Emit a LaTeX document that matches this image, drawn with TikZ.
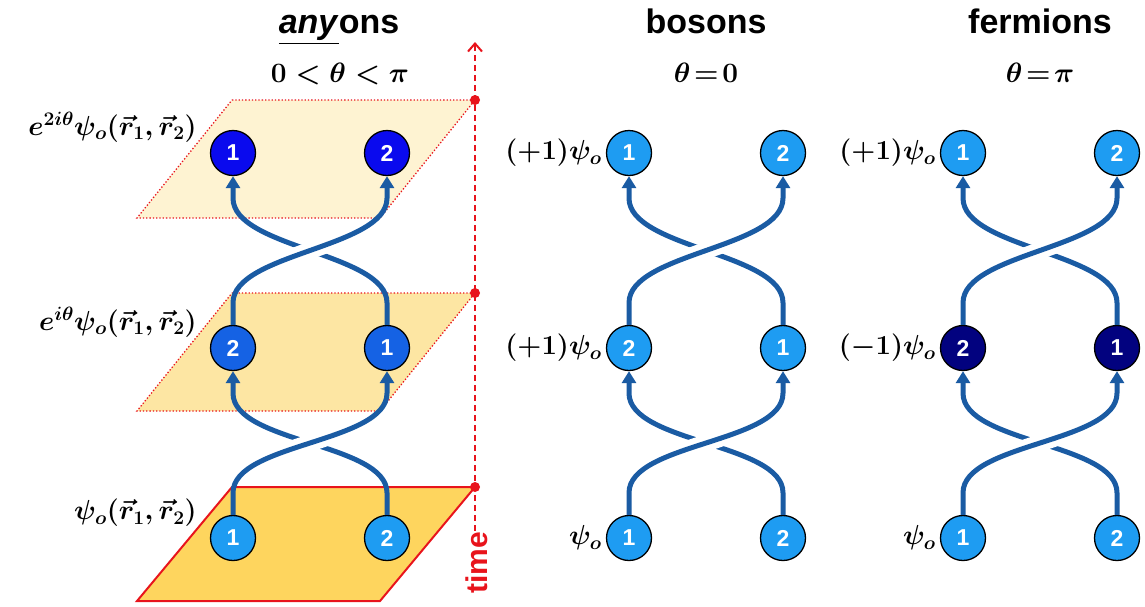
\RequirePackage{fix-cm}
\documentclass[tikz,border=0pt]{standalone}
\usepackage{amsmath}
\usepackage{fontspec}
\setsansfont{Liberation Sans}
\usetikzlibrary{arrows.meta,calc,positioning}

\definecolor{strandblue}{HTML}{1A5BA3}
\definecolor{darkblue}{HTML}{0A0AEE}
\definecolor{midblue}{HTML}{1562E4}
\definecolor{lightblue}{HTML}{1E9CF2}
\definecolor{navyblue}{HTML}{02027F}
\definecolor{timered}{HTML}{E8141C}
\definecolor{planepale}{HTML}{FEF3D2}
\definecolor{planemid}{HTML}{FDE6A3}
\definecolor{planedeep}{HTML}{FED55E}

% #1 lower left, #2 lower right, #3 upper left, #4 upper right
\newcommand{\swapbraid}[4]{%
  \draw[strand] (#2.north) -- ++(0,-22) .. controls +(0,-50) and +(0,50) .. ($(#3.south)+(0,22)$) -- (#3.south);
  \begin{scope}
    \clip ($(#1)!0.5!(#4)$) circle (30);
    \draw[halo] (#1.north) -- ++(0,-22) .. controls +(0,-50) and +(0,50) .. ($(#4.south)+(0,22)$) -- (#4.south);
  \end{scope}
  \draw[strand] (#1.north) -- ++(0,-22) .. controls +(0,-50) and +(0,50) .. ($(#4.south)+(0,22)$) -- (#4.south);
}

\begin{document}
\begin{tikzpicture}[
  x=1pt, y=-1pt,
  particle/.style={circle, draw=black, line width=1.3pt, minimum size=45pt, inner sep=0pt,
    text=white, font=\fontsize{23}{23}\selectfont\sffamily\bfseries},
  strand/.style={draw=strandblue, line width=5pt, -{Triangle[length=12pt,width=14pt]}},
  halo/.style={draw=white, line width=17pt},
  wavefn/.style={font=\fontsize{27.5}{30}\selectfont\boldmath, inner sep=0pt},
  heading/.style={font=\fontsize{34}{38}\selectfont\sffamily\bfseries, anchor=base},
  phase/.style={font=\fontsize{28}{32}\selectfont\boldmath, anchor=base},
  plane/.style={line width=1.3pt, draw=timered, dotted},
  timeaxis/.style={draw=timered, line width=2pt, dash pattern=on 6pt off 4pt,
    -{Straight Barb[length=8pt,width=14pt]}},
  tdot/.style={circle, fill=timered, inner sep=0pt, minimum size=10pt}
]
\useasboundingbox (0,0) rectangle (1145,606);

% time slices
\draw[plane, fill=planepale] (232,100) -- (475,100) -- (380,218) -- (137,218) -- cycle;
\draw[plane, fill=planemid] (232,293) -- (475,293) -- (380,411) -- (137,411) -- cycle;
\draw[line width=2pt, draw=timered, fill=planedeep] (232,487) -- (475,487) -- (380,601) -- (137,601) -- cycle;

% time axis
\node[rotate=90, text=timered, font=\fontsize{30}{30}\selectfont\sffamily\bfseries, inner sep=1pt] (tlbl) at (477,563) {time};
\coordinate (ttop) at (475,42);
\draw[timeaxis] (ttop |- tlbl.east) -- (ttop);
\node[tdot] (d1) at (475,487) {};
\node[tdot] (d2) at (475,293) {};
\node[tdot] (d3) at (475,100) {};

% headings
\node[heading] (hany) at (339,33) {\underline{\textit{any}}ons};
\node[phase] (pany) at (340,82) {$0<\theta<\pi$};
\node[heading] (hbos) at (706,33) {bosons};
\node[phase] (pbos) at (706,82) {$\theta\!=\!0$};
\node[heading] (hfer) at (1040,33) {fermions};
\node[phase] (pfer) at (1040,82) {$\theta\!=\!\pi$};

% anyons
\node[particle, fill=lightblue] (aB1) at (233,538) {1};
\node[particle, fill=lightblue] (aB2) at (387,538) {2};
\node[particle, fill=midblue] (aM2) at (233,348) {2};
\node[particle, fill=midblue] (aM1) at (387,348) {1};
\node[particle, fill=darkblue] (aT1) at (233,153) {1};
\node[particle, fill=darkblue] (aT2) at (387,153) {2};
\swapbraid{aB1}{aB2}{aM2}{aM1}
\swapbraid{aM2}{aM1}{aT1}{aT2}
\node[wavefn, left=13pt of aB1, yshift=25pt] (waB) {$\psi_o(\vec{r}_1,\vec{r}_2)$};
\node[wavefn, left=13pt of aM2, yshift=26pt] (waM) {$e^{i\theta}\psi_o(\vec{r}_1,\vec{r}_2)$};
\node[wavefn, left=13pt of aT1, yshift=26pt] (waT) {$e^{2i\theta}\psi_o(\vec{r}_1,\vec{r}_2)$};

% bosons
\node[particle, fill=lightblue] (bB1) at (629,538) {1};
\node[particle, fill=lightblue] (bB2) at (783,538) {2};
\node[particle, fill=lightblue] (bM2) at (629,348) {2};
\node[particle, fill=lightblue] (bM1) at (783,348) {1};
\node[particle, fill=lightblue] (bT1) at (629,153) {1};
\node[particle, fill=lightblue] (bT2) at (783,153) {2};
\swapbraid{bB1}{bB2}{bM2}{bM1}
\swapbraid{bM2}{bM1}{bT1}{bT2}
\node[wavefn, left=4pt of bB1] (wbB) {$\psi_o$};
\node[wavefn, left=4pt of bM2] (wbM) {$(+1)\psi_o$};
\node[wavefn, left=4pt of bT1] (wbT) {$(+1)\psi_o$};

% fermions
\node[particle, fill=lightblue] (fB1) at (963,538) {1};
\node[particle, fill=lightblue] (fB2) at (1117,538) {2};
\node[particle, fill=navyblue] (fM2) at (963,348) {2};
\node[particle, fill=navyblue] (fM1) at (1117,348) {1};
\node[particle, fill=lightblue] (fT1) at (963,153) {1};
\node[particle, fill=lightblue] (fT2) at (1117,153) {2};
\swapbraid{fB1}{fB2}{fM2}{fM1}
\swapbraid{fM2}{fM1}{fT1}{fT2}
\node[wavefn, left=4pt of fB1] (wfB) {$\psi_o$};
\node[wavefn, left=4pt of fM2] (wfM) {$(-1)\psi_o$};
\node[wavefn, left=4pt of fT1] (wfT) {$(+1)\psi_o$};
\end{tikzpicture}
\end{document}
